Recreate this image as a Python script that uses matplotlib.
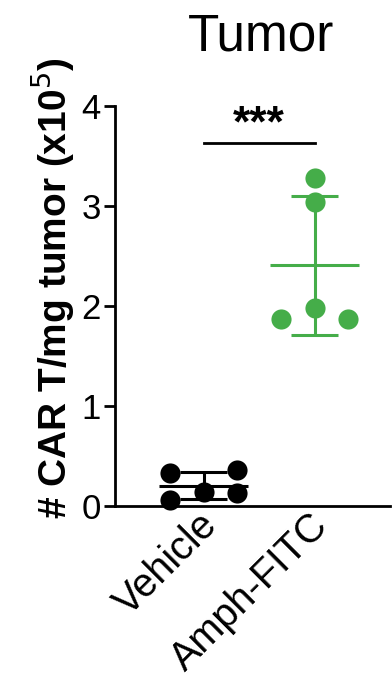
import numpy as np
import matplotlib
matplotlib.use("Agg")
import matplotlib.pyplot as plt
from matplotlib.transforms import ScaledTranslation

plt.rcParams['font.family'] = ['Liberation Sans', 'DejaVu Sans']

groups = ['Vehicle', 'Amph-FITC']
colors = ['black', '#45ad49']
vehicle = [0.33, 0.36, 0.14, 0.13, 0.06]
vehicle_dx = [-0.3, 0.3, 0.0, 0.3, -0.3]
amph = [3.28, 3.04, 1.98, 1.87, 1.87]
amph_dx = [0.0, 0.0, 0.0, -0.3, 0.3]

fig = plt.figure(figsize=(3.92, 6.86), dpi=100)
ax = fig.add_axes([0.293, 0.2624, 0.702, 0.5831])

for i, (vals, dx, c) in enumerate(zip([vehicle, amph], [vehicle_dx, amph_dx], colors)):
    vals = np.array(vals)
    m = vals.mean()
    sd = vals.std(ddof=1)
    ax.hlines(m, i - 0.4, i + 0.4, color=c, lw=2.2, zorder=2)
    ax.vlines(i, m - sd, m + sd, color=c, lw=2.2, zorder=2)
    ax.hlines([m - sd, m + sd], i - 0.21, i + 0.21, color=c, lw=2.2, zorder=2)
    ax.plot(i + np.array(dx), vals, 'o', color=c, ms=14.5, mec='none', zorder=3, clip_on=False)

# significance bar
ax.plot([0, 1], [3.63, 3.63], color='black', lw=2)
ax.text(0.5, 3.61, '***', ha='center', va='bottom', fontsize=32, fontweight='bold')

ax.set_xlim(-0.8, 1.68)
ax.set_ylim(0, 4)
ax.set_yticks([0, 1, 2, 3, 4])
ax.set_xticks([0, 1])
ax.set_xticklabels(groups, rotation=45, ha='right', rotation_mode='anchor', fontsize=28.5)
ax.tick_params(axis='x', length=0, pad=0)
for lab in ax.get_xticklabels():
    lab.set_transform(lab.get_transform() + ScaledTranslation(-0.06, 0, fig.dpi_scale_trans))
ax.tick_params(axis='y', length=8, width=2, labelsize=25, pad=2)
for s in ['top', 'right']:
    ax.spines[s].set_visible(False)
for s in ['left', 'bottom']:
    ax.spines[s].set_linewidth(2)

ax.set_ylabel('# CAR T/mg tumor (x10$^5$)', fontsize=28, fontweight='bold', labelpad=4)
ax.yaxis.label.set_y(0.545)
ax.set_title('Tumor', fontsize=37, pad=40, x=0.53)

fig.savefig('out.png', dpi=100)
